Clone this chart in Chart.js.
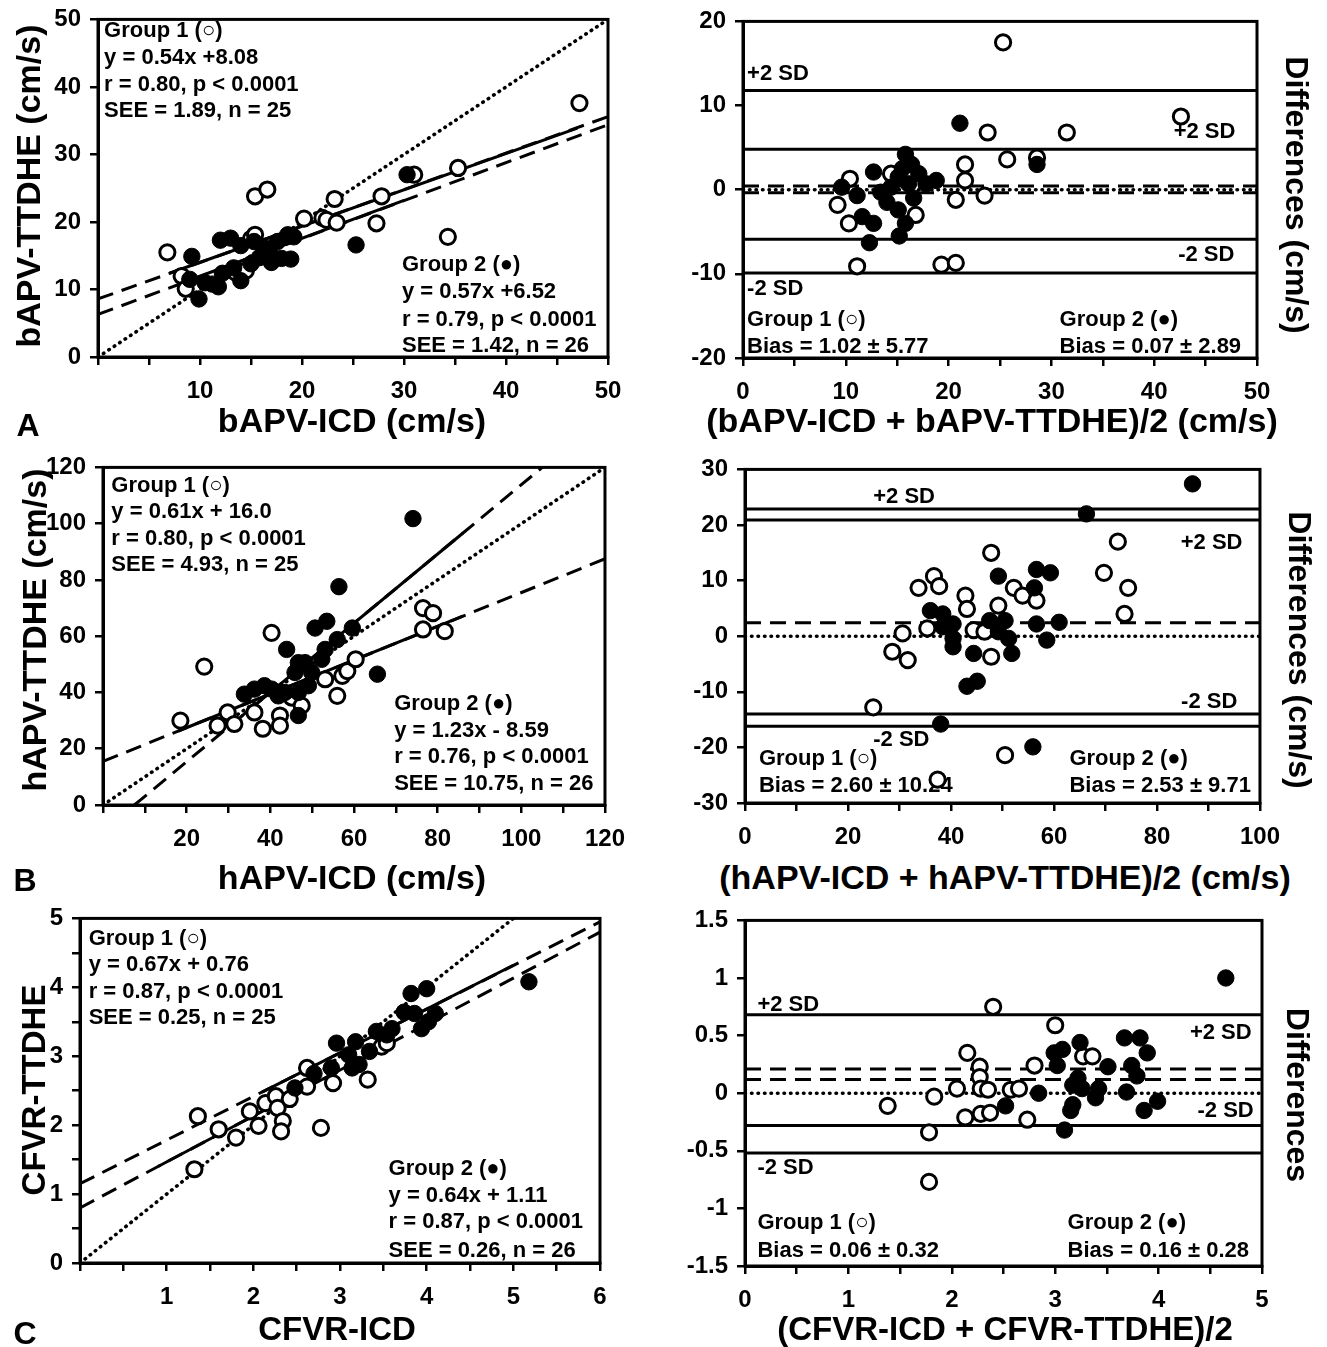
<!DOCTYPE html>
<html>
<head>
<meta charset="utf-8">
<script src="https://cdn.jsdelivr.net/npm/chart.js@4.4.1/dist/chart.umd.min.js"></script>
<style>
  body { margin: 0; background: #fff; }
  #page { position: relative; width: 1327px; height: 1347px; overflow: hidden; background: #fff;
          font-family: "Liberation Sans", Arial, Helvetica, sans-serif; font-weight: bold; color: #000; }
  #page canvas { position: absolute; }
  .lbl { position: absolute; white-space: nowrap; line-height: 1; transform: translate(-50%, -50%); }
</style>
</head>
<body>
<div id="page"></div>
<script>
// ---- panel A : bAPV ----
const aG1x = [6.8, 8.2, 8.6, 13.5, 14.5, 15.0, 15.4, 15.4, 16.6, 20.2, 22.0, 22.4, 23.2, 23.4, 27.3, 27.8, 31.0, 34.3, 35.3, 47.2];
const aG1y = [15.5, 12.0, 10.1, 12.5, 12.8, 17.5, 18.1, 23.8, 24.8, 20.5, 20.6, 20.3, 23.4, 19.9, 19.8, 23.8, 27.0, 17.8, 28.0, 37.6];
const aG2x = [9.2, 9.9, 9.0, 10.5, 11.2, 11.8, 12.0, 12.2, 13.0, 13.3, 14.0, 14.0, 15.0, 15.3, 15.8, 16.3, 16.9, 17.0, 17.6, 18.0, 18.6, 18.9, 19.2, 25.3, 30.3];
const aG2y = [14.9, 8.6, 11.5, 11.0, 10.8, 10.4, 17.3, 12.4, 17.6, 13.2, 11.3, 16.5, 13.8, 17.1, 14.7, 16.2, 15.2, 14.0, 17.1, 14.6, 18.1, 14.5, 17.8, 16.6, 27.0];
const aIdX = [0, 50], aIdY = [0, 50];
const aReg1X = [0, 50], aReg1Y = [8.6, 35.6];
const aReg2X = [0, 50], aReg2Y = [6.3, 34.4];
const aFit1X = [7, 47], aFit1Y = [12.4, 33.9];
const aFit2X = [9, 30], aFit2Y = [11.4, 23.2];

const baAG1x = [25.3, 42.6, 23.8, 31.5, 25.7, 28.6, 21.6, 21.6, 20.7, 23.5, 16.8, 9.2, 10.3, 10.4, 14.4, 11.1, 19.3, 20.7];
const baAG1y = [17.5, 8.7, 6.8, 6.8, 3.6, 3.8, 3.0, 1.1, -1.2, -0.7, -3.0, -1.8, -4.0, 1.3, 1.9, -9.1, -8.9, -8.7];
const baAG2x = [21.1, 28.6, 9.6, 12.7, 11.1, 13.4, 11.6, 12.7, 12.3, 15.2, 15.1, 15.8, 15.8, 16.4, 15.1, 17.1, 17.8, 18.8, 16.1, 14.4, 14.0, 16.6, 15.5];
const baAG2y = [7.9, 3.0, 0.3, 2.1, -0.7, -0.3, -3.2, -4.0, -6.3, -5.5, -2.4, -4.0, 4.2, 3.0, 1.5, 1.9, 0.7, 1.1, 0.7, 0.3, -1.5, -1.0, 2.5];
const baASolid = [11.8, 4.8, -5.9, -9.9];
const baADash = [0.45, -0.35];
const baADot = [0];

// ---- panel B : hAPV ----
const bG1x = [18.5, 24.2, 40.3, 27.4, 29.8, 31.4, 36.2, 38.2, 42.3, 42.3, 45.1, 53.1, 56.0, 57.2, 58.4, 60.4, 76.5, 78.9, 76.5, 81.7, 47.5];
const bG1y = [30.0, 49.2, 61.2, 28.2, 32.9, 28.8, 32.9, 27.1, 31.8, 28.2, 38.2, 44.7, 38.8, 45.9, 47.6, 51.8, 70.0, 68.2, 62.4, 61.8, 35.3];
const bG2x = [74.1, 56.4, 43.9, 65.6, 50.7, 53.5, 59.6, 56.0, 53.1, 46.7, 33.8, 36.2, 38.6, 40.3, 43.5, 45.9, 48.3, 49.9, 52.3, 46.7, 41.9, 49.1, 46.7];
const bG2y = [101.8, 77.6, 55.3, 46.5, 62.9, 65.3, 62.9, 58.8, 55.3, 31.8, 39.4, 41.2, 42.4, 41.2, 40.0, 47.1, 50.6, 47.1, 51.8, 40.0, 38.8, 42.4, 50.6];
const bIdX = [0, 120], bIdY = [0, 120];
const bReg1X = [0, 120], bReg1Y = [15.5, 87.5];
const bReg2X = [7.5, 105], bReg2Y = [0, 120];
const bFit1X = [18, 86], bFit1Y = [26.3, 67.1];
const bFit2X = [33, 86], bFit2Y = [31.4, 96.6];

const baBG1x = [72.4, 47.8, 69.7, 74.4, 73.7, 36.7, 37.7, 33.7, 42.8, 43.1, 52.2, 53.9, 56.6, 49.2, 30.6, 35.4, 28.6, 31.6, 44.4, 46.5, 47.8, 24.9, 50.5, 37.4];
const baBG1y = [17.0, 15.0, 11.4, 8.7, 4.0, 10.8, 9.0, 8.7, 7.3, 4.9, 8.7, 7.3, 6.4, 5.5, 0.5, 1.4, -2.8, -4.3, 1.1, 0.8, -3.7, -12.8, -21.4, -25.8];
const baBG2x = [86.9, 66.3, 56.6, 59.3, 49.2, 56.2, 36.0, 38.4, 38.4, 40.4, 40.4, 40.4, 44.4, 47.5, 50.5, 49.2, 51.2, 51.8, 56.6, 61.0, 58.6, 43.1, 45.1, 38.0, 55.9];
const baBG2y = [27.4, 22.0, 12.0, 11.4, 10.8, 8.7, 4.6, 4.0, 1.7, 2.2, -0.4, -1.9, -3.1, 2.8, 2.8, 0.8, -0.4, -3.1, 2.2, 2.5, -0.7, -9.0, -8.1, -15.8, -19.9];
const baBSolid = [22.9, 20.9, -14.0, -16.2];
const baBDash = [2.4];
const baBDot = [0];

// ---- panel C : CFVR ----
const cG1x = [1.32, 1.36, 1.6, 1.8, 1.96, 2.06, 2.14, 2.26, 2.28, 2.34, 2.32, 2.78, 2.62, 2.62, 2.92, 3.32, 3.48, 3.54, 2.42];
const cG1y = [1.36, 2.13, 1.94, 1.82, 2.2, 1.99, 2.32, 2.42, 2.25, 2.06, 1.91, 1.96, 2.83, 2.56, 2.61, 2.66, 3.14, 3.19, 2.38];
const cG2x = [5.18, 3.82, 4.0, 3.74, 3.94, 4.1, 3.86, 2.96, 2.9, 2.48, 3.18, 3.1, 3.42, 3.54, 3.22, 3.14, 3.34, 3.6, 4.02, 2.7];
const cG2y = [4.08, 3.91, 3.98, 3.64, 3.4, 3.62, 3.62, 3.19, 2.83, 2.54, 3.21, 3.02, 3.36, 3.31, 2.88, 2.83, 3.07, 3.4, 3.5, 2.75];
const cIdX = [0, 5], cIdY = [0, 5];
const cReg1X = [0, 6], cReg1Y = [0.8, 4.8];
const cReg2X = [0, 6], cReg2Y = [1.15, 4.95];
const cFit1X = [0.9, 3.6], cFit1Y = [1.4, 3.2];
const cFit2X = [2.1, 5.0], cFit2Y = [2.48, 4.32];

const baCG1x = [2.4, 3.0, 2.15, 2.27, 2.27, 2.28, 2.35, 2.05, 1.83, 1.38, 2.13, 2.28, 2.37, 2.57, 2.65, 2.8, 2.73, 1.78, 1.78, 3.27, 3.36];
const baCG1y = [0.75, 0.59, 0.35, 0.23, 0.14, 0.04, 0.03, 0.04, -0.03, -0.11, -0.21, -0.18, -0.17, 0.03, 0.04, 0.24, -0.23, -0.34, -0.77, 0.32, 0.32];
const baCG2x = [4.65, 3.67, 3.82, 3.89, 3.24, 2.99, 3.07, 3.02, 3.51, 3.74, 3.79, 3.22, 3.17, 3.42, 3.39, 3.17, 3.69, 3.99, 3.86, 2.84, 2.52, 3.09, 3.26, 3.15];
const baCG2y = [1.0, 0.48, 0.48, 0.35, 0.44, 0.35, 0.38, 0.24, 0.23, 0.24, 0.15, 0.13, 0.07, 0.04, -0.04, -0.1, 0.01, -0.07, -0.15, 0.0, -0.11, -0.32, 0.04, -0.15];
const baCSolid = [0.68, -0.28, -0.52];
const baCDash = [0.21, 0.12];
const baCDot = [0];

// ---------------------------------------------------------------
const page = document.getElementById('page');
const FONT = '"Liberation Sans", Arial, Helvetica, sans-serif';
const YW = 70, XH = 50, PT = 20, PR = 30;

function pts(xs, ys) {
  return xs.map((x, i) => ({ x: x, y: ys[i] }));
}

function lineDs(xs, ys, style) {
  const ds = { data: pts(xs, ys), showLine: true, borderColor: '#000', borderWidth: 3,
               pointRadius: 0, fill: false, order: 5 };
  if (style === 'dash') { ds.borderDash = [16, 9]; ds.borderWidth = 3; }
  if (style === 'dot') { ds.borderDash = [0.5, 6]; ds.borderWidth = 3.6; ds.borderCapStyle = 'round'; }
  return ds;
}

// horizontal reference lines across the whole x range
function hLines(vals, xmin, xmax, style) {
  return vals.map(v => lineDs([xmin, xmax], [v, v], style));
}

function openDs(xs, ys) {
  return { data: pts(xs, ys), pointRadius: 7.6, pointBorderWidth: 3, pointBorderColor: '#000',
           pointBackgroundColor: '#fff', showLine: false, order: 2 };
}
function fillDs(xs, ys) {
  return { data: pts(xs, ys), pointRadius: 8.2, pointBorderWidth: 1, pointBorderColor: '#000',
           pointBackgroundColor: '#000', showLine: false, order: 1 };
}

function axis(min, max, step, labelFn, isX) {
  return {
    type: 'linear', min: min, max: max,
    afterFit(s) { if (isX) s.height = XH; else s.width = YW; },
    border: { display: true, color: '#000', width: 3 },
    grid: { display: true, drawOnChartArea: false, drawTicks: true, tickLength: 8, color: '#000', lineWidth: 2.5 },
    ticks: { stepSize: step, autoSkip: false, maxRotation: 0, minRotation: 0, color: '#000',
             padding: isX ? 12 : 9, font: { family: FONT, size: 24, weight: 'bold' }, callback: labelFn }
  };
}

const framePlugin = {
  id: 'frame',
  beforeDatasetsDraw(chart) {
    const a = chart.chartArea, c = chart.ctx;
    c.save();
    c.lineWidth = 3;
    c.strokeStyle = '#000';
    c.strokeRect(a.left, a.top, a.right - a.left, a.bottom - a.top);
    c.restore();
  }
};

function notesPlugin(items) {
  return {
    id: 'notes',
    beforeDatasetsDraw(chart) {
      const c = chart.ctx, xs = chart.scales.x, ys = chart.scales.y;
      c.save();
      c.font = 'bold 22px ' + FONT;
      c.fillStyle = '#000';
      c.textBaseline = 'middle';
      items.forEach(n => {
        c.textAlign = n.align || 'left';
        c.fillText(n.text, xs.getPixelForValue(n.x), ys.getPixelForValue(n.y));
      });
      c.restore();
    }
  };
}

function block(x, ys, lines, align) {
  return lines.map((t, i) => ({ x: x, y: ys[i], text: t, align: align }));
}

function panel(box, xAx, yAx, datasets, notes) {
  const cv = document.createElement('canvas');
  const w = box.R - box.L + YW + PR, h = box.B - box.T + PT + XH;
  cv.width = w; cv.height = h;
  cv.style.left = (box.L - YW) + 'px';
  cv.style.top = (box.T - PT) + 'px';
  cv.style.width = w + 'px'; cv.style.height = h + 'px';
  page.appendChild(cv);
  new Chart(cv, {
    type: 'scatter',
    data: { datasets: datasets },
    options: {
      responsive: false, animation: false, devicePixelRatio: 1, events: [],
      layout: { padding: { top: PT, right: PR, left: 0, bottom: 0 } },
      plugins: { legend: { display: false }, tooltip: { enabled: false } },
      scales: { x: xAx, y: yAx }
    },
    plugins: [framePlugin, notesPlugin(notes)]
  });
}

function addLabel(text, cx, cy, size, rot) {
  const d = document.createElement('div');
  d.className = 'lbl';
  d.textContent = text;
  d.style.left = cx + 'px';
  d.style.top = cy + 'px';
  d.style.fontSize = size + 'px';
  if (rot) d.style.transform = 'translate(-50%, -50%) rotate(' + rot + 'deg)';
  page.appendChild(d);
}

const isInt = v => Math.abs(v - Math.round(v)) < 1e-6;
const fmt = v => String(Math.round(v * 10) / 10);

// ---- A left ----
panel({ L: 98, R: 608, T: 16, B: 357 },
  axis(0, 50, 5, v => (v % 10 === 0 && v !== 0) ? v : '', true),
  axis(0, 50, 10, v => v, false),
  [lineDs(aIdX, aIdY, 'dot'), lineDs(aReg1X, aReg1Y, 'dash'), lineDs(aReg2X, aReg2Y, 'dash'),
   lineDs(aFit1X, aFit1Y), lineDs(aFit2X, aFit2Y),
   openDs(aG1x, aG1y), fillDs(aG2x, aG2y)],
  block(0.6, [48.3, 44.3, 40.3, 36.4], ['Group 1 (○)', 'y = 0.54x +8.08', 'r = 0.80, p < 0.0001', 'SEE = 1.89, n = 25'])
    .concat(block(29.8, [13.6, 9.65, 5.5, 1.7], ['Group 2 (●)', 'y = 0.57x +6.52', 'r = 0.79, p < 0.0001', 'SEE = 1.42, n = 26']))
);

// ---- A right ----
panel({ L: 743, R: 1257, T: 18, B: 358 },
  axis(0, 50, 5, v => (v % 10 === 0) ? v : '', true),
  axis(-20, 20, 10, v => v, false),
  hLines(baASolid, 0, 50).concat(hLines(baADash, 0, 50, 'dash'), hLines(baADot, 0, 50, 'dot'),
    [openDs(baAG1x, baAG1y), fillDs(baAG2x, baAG2y)]),
  [{ x: 0.4, y: 13.8, text: '+2 SD' }, { x: 47.9, y: 6.9, text: '+2 SD', align: 'right' },
   { x: 47.8, y: -7.7, text: '-2 SD', align: 'right' }, { x: 0.4, y: -11.8, text: '-2 SD' }]
    .concat(block(0.4, [-15.5, -18.7], ['Group 1 (○)', 'Bias = 1.02 ± 5.77']))
    .concat(block(30.8, [-15.5, -18.7], ['Group 2 (●)', 'Bias = 0.07 ± 2.89']))
);

// ---- B left ----
panel({ L: 103, R: 607, T: 464, B: 805 },
  axis(0, 120, 10, v => (v % 20 === 0 && v !== 0) ? v : '', true),
  axis(0, 120, 20, v => v, false),
  [lineDs(bIdX, bIdY, 'dot'), lineDs(bReg1X, bReg1Y, 'dash'), lineDs(bReg2X, bReg2Y, 'dash'),
   lineDs(bFit1X, bFit1Y), lineDs(bFit2X, bFit2Y),
   openDs(bG1x, bG1y), fillDs(bG2x, bG2y)],
  block(2.0, [113.5, 104.1, 94.7, 85.3], ['Group 1 (○)', 'y = 0.61x + 16.0', 'r = 0.80, p < 0.0001', 'SEE = 4.93, n = 25'])
    .concat(block(69.6, [35.9, 26.5, 17.1, 7.6], ['Group 2 (●)', 'y = 1.23x - 8.59', 'r = 0.76, p < 0.0001', 'SEE = 10.75, n = 26']))
);

// ---- B right ----
panel({ L: 745, R: 1262, T: 466, B: 803 },
  axis(0, 100, 10, v => (v % 20 === 0) ? v : '', true),
  axis(-30, 30, 10, v => v, false),
  hLines(baBSolid, 0, 100).concat(hLines(baBDash, 0, 100, 'dash'), hLines(baBDot, 0, 100, 'dot'),
    [openDs(baBG1x, baBG1y), fillDs(baBG2x, baBG2y)]),
  [{ x: 24.9, y: 25.0, text: '+2 SD' }, { x: 96.6, y: 16.7, text: '+2 SD', align: 'right' },
   { x: 95.6, y: -11.9, text: '-2 SD', align: 'right' }, { x: 24.9, y: -18.7, text: '-2 SD' }]
    .concat(block(2.7, [-22.0, -27.0], ['Group 1 (○)', 'Bias = 2.60 ± 10.24']))
    .concat(block(63.0, [-22.0, -27.0], ['Group 2 (●)', 'Bias = 2.53 ± 9.71']))
);

// ---- C left ----
panel({ L: 80, R: 600, T: 915, B: 1263 },
  axis(0, 6, 0.5, v => (isInt(v) && v !== 0) ? fmt(v) : '', true),
  axis(0, 5, 0.5, v => isInt(v) ? fmt(v) : '', false),
  [lineDs(cIdX, cIdY, 'dot'), lineDs(cReg1X, cReg1Y, 'dash'), lineDs(cReg2X, cReg2Y, 'dash'),
   lineDs(cFit1X, cFit1Y), lineDs(cFit2X, cFit2Y),
   openDs(cG1x, cG1y), fillDs(cG2x, cG2y)],
  block(0.1, [4.7, 4.32, 3.94, 3.55], ['Group 1 (○)', 'y = 0.67x + 0.76', 'r = 0.87, p < 0.0001', 'SEE = 0.25, n = 25'])
    .concat(block(3.56, [1.36, 0.98, 0.59, 0.18], ['Group 2 (●)', 'y = 0.64x + 1.11', 'r = 0.87, p < 0.0001', 'SEE = 0.26, n = 26']))
);

// ---- C right ----
panel({ L: 745, R: 1262, T: 917, B: 1266 },
  axis(0, 5, 0.5, v => isInt(v) ? fmt(v) : '', true),
  axis(-1.5, 1.5, 0.5, v => fmt(v), false),
  hLines(baCSolid, 0, 5).concat(hLines(baCDash, 0, 5, 'dash'), hLines(baCDot, 0, 5, 'dot'),
    [openDs(baCG1x, baCG1y), fillDs(baCG2x, baCG2y)]),
  [{ x: 0.12, y: 0.77, text: '+2 SD' }, { x: 4.9, y: 0.52, text: '+2 SD', align: 'right' },
   { x: 4.92, y: -0.155, text: '-2 SD', align: 'right' }, { x: 0.12, y: -0.65, text: '-2 SD' }]
    .concat(block(0.12, [-1.13, -1.37], ['Group 1 (○)', 'Bias = 0.06 ± 0.32']))
    .concat(block(3.12, [-1.13, -1.37], ['Group 2 (●)', 'Bias = 0.16 ± 0.28']))
);

// ---- axis titles and panel letters ----
addLabel('bAPV-TTDHE (cm/s)', 28, 186, 34, -90);
addLabel('bAPV-ICD (cm/s)', 352, 420, 34);
addLabel('A', 28, 425, 32);
addLabel('(bAPV-ICD + bAPV-TTDHE)/2 (cm/s)', 992, 420, 34);
addLabel('Differences (cm/s)', 1297, 195, 32, 90);

addLabel('hAPV-TTDHE (cm/s)', 34, 630, 34, -90);
addLabel('hAPV-ICD (cm/s)', 352, 877, 34);
addLabel('B', 25, 880, 32);
addLabel('(hAPV-ICD + hAPV-TTDHE)/2 (cm/s)', 1005, 877, 34);
addLabel('Differences (cm/s)', 1300, 650, 32, 90);

addLabel('CFVR-TTDHE', 33, 1090, 33, -90);
addLabel('CFVR-ICD', 337, 1328, 33);
addLabel('C', 25, 1333, 32);
addLabel('(CFVR-ICD + CFVR-TTDHE)/2', 1005, 1328, 33);
addLabel('Differences', 1298, 1095, 32, 90);
</script>
</body>
</html>
